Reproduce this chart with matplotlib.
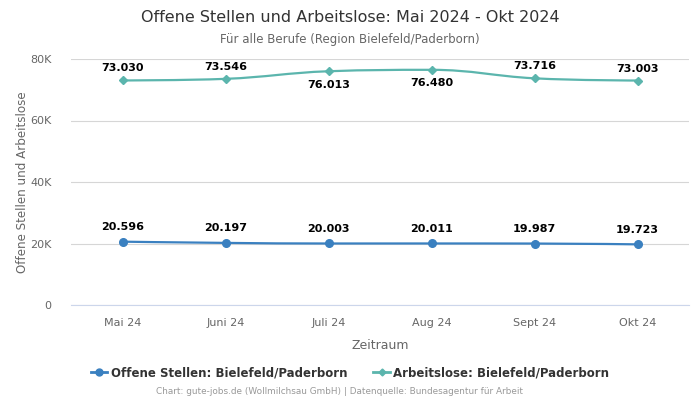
import matplotlib
matplotlib.use("Agg")
import matplotlib.pyplot as plt
from matplotlib.path import Path
from matplotlib.patches import PathPatch
from matplotlib.ticker import FuncFormatter
from matplotlib.lines import Line2D

monate = ["Mai 24", "Juni 24", "Juli 24", "Aug 24", "Sept 24", "Okt 24"]
offene_stellen = [20596, 20197, 20003, 20011, 19987, 19723]
arbeitslose = [73030, 73546, 76013, 76480, 73716, 73003]

blau = "#3a80c0"
tuerkis = "#5bb5ad"
grau = "#666666"


def spline_path(xs, ys, smoothing=1.5):
    # cubic bezier segments like a Highcharts "spline" series
    denom = smoothing + 1
    n = len(xs)
    left, right = [], []
    for i in range(n):
        x, y = xs[i], ys[i]
        if 0 < i < n - 1:
            lx = (smoothing * x + xs[i - 1]) / denom
            ly = (smoothing * y + ys[i - 1]) / denom
            rx = (smoothing * x + xs[i + 1]) / denom
            ry = (smoothing * y + ys[i + 1]) / denom
            corr = (ry - ly) * (rx - x) / (rx - lx) + y - ry
            ly += corr
            ry += corr
            if ly > max(ys[i - 1], y):
                ly = max(ys[i - 1], y); ry = 2 * y - ly
            elif ly < min(ys[i - 1], y):
                ly = min(ys[i - 1], y); ry = 2 * y - ly
            if ry > max(ys[i + 1], y):
                ry = max(ys[i + 1], y); ly = 2 * y - ry
            elif ry < min(ys[i + 1], y):
                ry = min(ys[i + 1], y); ly = 2 * y - ry
            left.append((lx, ly)); right.append((rx, ry))
        else:
            left.append((x, y)); right.append((x, y))
    verts = [(xs[0], ys[0])]
    codes = [Path.MOVETO]
    for i in range(1, n):
        verts += [right[i - 1], left[i], (xs[i], ys[i])]
        codes += [Path.CURVE4] * 3
    return Path(verts, codes)


def de(v):
    return f"{v:,}".replace(",", ".")


fig = plt.figure(figsize=(7, 4), dpi=100)
ax = fig.add_axes([71 / 700, 95 / 400, 618 / 700, 246 / 400])

xs = list(range(len(monate)))
for werte, farbe, marker, ms in [(offene_stellen, blau, "o", 5.5), (arbeitslose, tuerkis, "D", 3.8)]:
    ax.add_patch(PathPatch(spline_path(xs, werte), facecolor="none",
                           edgecolor=farbe, lw=1.6, zorder=3))
    ax.plot(xs, werte, ls="none", marker=marker, ms=ms, color=farbe, zorder=4)

for i, v in enumerate(offene_stellen):
    ax.annotate(de(v), (i, v), xytext=(0, 7), textcoords="offset points",
                ha="center", va="bottom", fontsize=8, fontweight="bold", color="black")
for i, v in enumerate(arbeitslose):
    unten = v > 75000
    ax.annotate(de(v), (i, v), xytext=(0, -6 if unten else 5), textcoords="offset points",
                ha="center", va="top" if unten else "bottom",
                fontsize=8, fontweight="bold", color="black")

ax.set_xlim(-0.5, len(monate) - 0.5)
ax.set_ylim(0, 80000)
ax.set_yticks([0, 20000, 40000, 60000, 80000])
ax.yaxis.set_major_formatter(FuncFormatter(lambda v, p: "0" if v == 0 else f"{int(v / 1000)}K"))
ax.set_xticks(xs)
ax.set_xticklabels(monate)
ax.tick_params(axis="both", length=0, labelsize=8, colors=grau)
ax.tick_params(axis="x", pad=9)
ax.tick_params(axis="y", pad=14)
ax.grid(axis="y", color="#d6d6d6", lw=0.8)
ax.set_axisbelow(True)
for s in ["top", "right", "left"]:
    ax.spines[s].set_visible(False)
ax.spines["bottom"].set_color("#ccd6eb")

ax.set_xlabel("Zeitraum", fontsize=9, color=grau, labelpad=8)
ax.set_ylabel("Offene Stellen und Arbeitslose", fontsize=8.6, color=grau, labelpad=1)

fig.text(0.5, 1 - 17 / 400, "Offene Stellen und Arbeitslose: Mai 2024 - Okt 2024",
         ha="center", va="center", fontsize=11.5, color="#333333")
fig.text(0.5, 1 - 39 / 400, "Für alle Berufe (Region Bielefeld/Paderborn)",
         ha="center", va="center", fontsize=8.5, color=grau)

handles = [Line2D([], [], color=blau, lw=2, marker="o", ms=5),
           Line2D([], [], color=tuerkis, lw=2, marker="D", ms=3.5)]
fig.legend(handles, ["Offene Stellen: Bielefeld/Paderborn", "Arbeitslose: Bielefeld/Paderborn"],
           loc="center", bbox_to_anchor=(0.5, 1 - 373 / 400), ncol=2, frameon=False,
           prop={"size": 8.5, "weight": "bold"}, labelcolor="#333333",
           handlelength=1.4, handletextpad=0.3, columnspacing=2.2)

fig.text(340 / 700, 1 - 392 / 400,
         "Chart: gute-jobs.de (Wollmilchsau GmbH) | Datenquelle: Bundesagentur für Arbeit",
         ha="center", va="center", fontsize=6.4, color="#999999")

fig.savefig("out.png", dpi=100)
